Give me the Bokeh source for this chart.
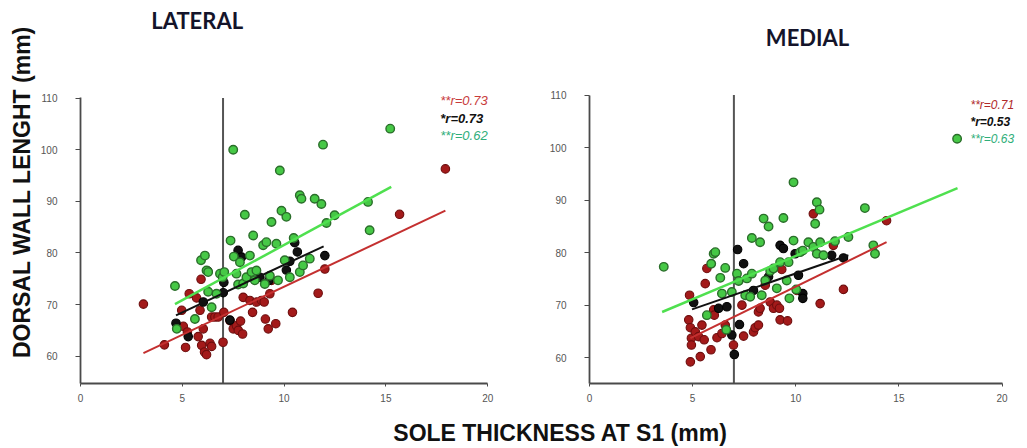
from bokeh.plotting import figure
from bokeh.layouts import column, row
from bokeh.models import Range1d, FixedTicker, Label
from bokeh.embed import file_html
from bokeh.resources import INLINE

# ---------------- data ----------------
x_ticks = [0, 5, 10, 15, 20]
y_ticks = [60, 70, 80, 90, 100, 110]
cut_x = 7

lat_red_x = [3.09, 4.12, 4.97, 5.05, 5.16, 5.25, 5.34, 5.70, 5.78, 5.87, 5.92, 5.95, 6.03, 6.09, 6.19,
             6.36, 6.44, 6.44, 6.60, 6.76, 7.00, 7.04, 7.34, 7.50, 7.66, 7.75, 7.86, 7.96, 7.99, 8.32,
             8.45, 8.64, 8.89, 9.02, 9.08, 9.22, 9.30, 9.38, 9.59, 10.41, 11.67, 12.00, 15.67, 17.92]
lat_red_y = [70.1, 62.2, 68.9, 65.8, 61.7, 64.7, 72.1, 71.3, 63.8, 68.9, 74.9, 62.1, 65.3, 60.8, 60.3,
             62.5, 61.9, 67.6, 67.6, 67.6, 62.7, 68.5, 66.9, 65.3, 65.9, 65.0, 66.8, 64.3, 71.4, 70.8,
             68.5, 70.5, 70.8, 70.5, 67.2, 65.3, 72.1, 74.7, 66.3, 68.5, 72.2, 76.9, 87.5, 96.3]
lat_black_x = [4.69, 5.29, 6.03, 6.25, 7.01, 7.04, 7.34, 7.74, 7.91, 8.81, 9.26, 10.11, 10.28, 10.52, 10.65, 12.00]
lat_black_y = [66.4, 63.8, 70.5, 76.5, 72.3, 74.3, 67.0, 80.5, 79.2, 75.3, 74.7, 76.7, 78.4, 82.0, 80.2, 79.5]
lat_green_x = [4.64, 4.73, 5.62, 5.92, 6.11, 6.19, 6.27, 6.27, 6.44, 6.68, 6.85, 6.98, 7.06, 7.37, 7.50,
               7.53, 7.66, 7.74, 7.83, 7.99, 8.07, 8.15, 8.32, 8.40, 8.48, 8.56, 8.64, 8.97, 9.05, 9.13,
               9.30, 9.38, 9.62, 9.70, 9.79, 9.87, 10.03, 10.11, 10.28, 10.47, 10.77, 10.85, 10.77, 10.93,
               11.26, 11.50, 11.83, 11.91, 12.08, 12.48, 14.12, 14.20, 15.21]
lat_green_y = [73.6, 65.3, 67.2, 78.6, 79.5, 76.6, 76.3, 72.5, 69.5, 72.1, 76.0, 75.3, 76.3, 82.4, 100.0,
               79.3, 76.0, 73.9, 78.2, 74.1, 87.4, 75.3, 79.5, 76.3, 83.4, 74.7, 76.6, 81.5, 74.0, 82.1,
               75.6, 86.0, 81.8, 74.7, 96.0, 88.2, 78.6, 87.0, 75.3, 82.9, 91.2, 90.5, 76.3, 77.6,
               78.9, 90.5, 89.5, 101.0, 85.8, 87.3, 89.9, 84.4, 104.1]
lat_red_line_x = [3.09, 17.92]
lat_red_line_y = [60.6, 88.2]
lat_black_line_x = [4.69, 11.94]
lat_black_line_y = [67.9, 81.3]
lat_green_line_x = [4.64, 15.26]
lat_green_line_y = [70.1, 92.8]
lat_r = ["**r=0.73", "*r=0.73", "**r=0.62"]

med_red_x = [4.85, 4.81, 4.89, 4.94, 4.94, 4.89, 5.13, 5.29, 5.37, 5.45, 5.56, 5.61, 5.69, 5.89, 6.02,
             6.05, 6.18, 6.42, 6.58, 6.98, 7.39, 7.47, 7.95, 8.03, 8.19, 8.19, 8.27, 8.52, 8.76, 8.92,
             9.08, 9.21, 9.24, 9.32, 9.60, 10.05, 10.85, 11.18, 11.82, 12.31, 14.40]
med_red_y = [71.9, 67.2, 65.7, 63.7, 62.4, 59.2, 64.9, 64.0, 60.2, 66.2, 63.4, 74.1, 77.0, 61.5, 69.1,
             68.1, 63.8, 64.6, 66.2, 62.4, 70.0, 64.1, 64.9, 65.7, 68.7, 66.2, 69.4, 73.8, 70.6, 69.4,
             70.0, 69.4, 67.2, 76.8, 67.0, 72.8, 87.4, 70.3, 81.4, 73.0, 86.1]
med_black_x = [5.05, 6.26, 6.66, 6.90, 7.02, 7.18, 7.27, 7.47, 7.95, 8.68, 9.24, 9.40, 9.97, 10.13, 10.34, 10.34, 11.74, 12.31]
med_black_y = [70.5, 69.4, 69.7, 64.3, 60.6, 80.6, 66.3, 77.9, 72.8, 75.4, 81.4, 80.8, 79.8, 75.7, 72.2, 71.3, 79.5, 79.0]
med_green_x = [3.60, 5.69, 5.90, 6.02, 6.10, 6.34, 6.42, 6.58, 6.63, 6.90, 7.15, 7.23, 7.55, 7.63, 7.79,
               7.87, 7.87, 8.27, 8.35, 8.44, 8.52, 8.68, 8.76, 8.92, 9.08, 9.24, 9.40, 9.56, 9.65, 9.69,
               9.89, 9.89, 10.02, 10.21, 10.34, 10.61, 10.85, 10.94, 11.02, 11.02, 11.15, 11.18, 11.34,
               11.90, 12.55, 13.35, 13.76, 13.84, 17.82]
med_green_y = [77.3, 68.1, 77.9, 79.8, 80.1, 75.2, 72.2, 77.1, 65.3, 72.5, 76.0, 74.6, 71.9, 75.1, 71.6,
               82.8, 76.0, 82.0, 71.9, 86.5, 74.7, 85.0, 76.5, 77.0, 73.2, 78.2, 86.6, 74.7, 78.2, 71.3,
               93.4, 82.3, 73.0, 80.1, 80.4, 82.0, 81.1, 85.5, 89.6, 79.8, 88.2, 82.0, 79.5,
               82.2, 83.0, 88.5, 81.4, 79.8, 101.7]
med_red_line_x = [4.89, 14.40]
med_red_line_y = [63.7, 82.0]
med_black_line_x = [4.97, 12.55]
med_black_line_y = [69.2, 79.5]
med_green_line_x = [3.52, 17.84]
med_green_line_y = [68.7, 92.3]
med_r = ["**r=0.71", "*r=0.53", "**r=0.63"]

# ---------------- styles ----------------
RED_FILL, RED_EDGE, RED_LINE = "#a31a1a", "#6e0e0e", "#c43030"
BLK_FILL, BLK_EDGE, BLK_LINE = "#111111", "#000000", "#111111"
GRN_FILL, GRN_EDGE, GRN_LINE = "#46c846", "#2a6e2a", "#4fe04f"
AX = "#4a4a4a"


def make_panel(width, height, border_l, border_b, x_end, y0, y1, y_top):
    p = figure(width=width, height=height, output_backend="svg", toolbar_location=None,
               title=None,
               x_range=Range1d(0, x_end), y_range=Range1d(y0, y1),
               min_border_left=border_l, min_border_right=0,
               min_border_top=0, min_border_bottom=border_b)
    p.outline_line_color = None
    p.grid.visible = False
    p.background_fill_color = "white"
    p.border_fill_color = "white"
    p.xaxis.ticker = FixedTicker(ticks=x_ticks)
    p.yaxis.ticker = FixedTicker(ticks=y_ticks)
    p.xaxis.bounds = (x_ticks[0], x_ticks[-1])
    p.yaxis.bounds = (y0, y_top)
    for ax in (p.xaxis[0], p.yaxis[0]):
        ax.axis_line_color = AX
        ax.axis_line_width = 1.8
        ax.major_tick_line_color = AX
        ax.minor_tick_line_color = None
        ax.major_label_text_font = "Liberation Sans"
        ax.major_label_text_font_size = "10px"
        ax.major_label_text_color = "#555555"
    p.xaxis.major_tick_out = 3
    p.xaxis.major_tick_in = 0
    p.xaxis.major_label_standoff = 7
    p.yaxis.major_tick_out = 5
    p.yaxis.major_tick_in = 0
    p.yaxis.major_label_standoff = 18
    # vertical reference line at the S1 cut-off
    p.segment(x0=[cut_x], y0=[y0], x1=[cut_x], y1=[y_top], line_color="#555555", line_width=2)
    return p


def draw(p, rx, ry, bx, by, gx, gy, lines):
    p.scatter(rx, ry, size=8.5, fill_color=RED_FILL, line_color=RED_EDGE, line_width=1.1)
    p.scatter(bx, by, size=8.5, fill_color=BLK_FILL, line_color=BLK_EDGE, line_width=1.1)
    p.scatter(gx, gy, size=8.5, fill_color=GRN_FILL, line_color=GRN_EDGE, line_width=1.4)
    for (lx, ly, c, w) in lines:
        p.line(lx, ly, line_color=c, line_width=w)


# ---------------- LATERAL ----------------
p1 = make_panel(530, 408, 80, 25, 22.10, 54.71, 128.93, 110.05)
draw(p1, lat_red_x, lat_red_y, lat_black_x, lat_black_y, lat_green_x, lat_green_y,
     [(lat_red_line_x, lat_red_line_y, RED_LINE, 2),
      (lat_black_line_x, lat_black_line_y, BLK_LINE, 2),
      (lat_green_line_x, lat_green_line_y, GRN_LINE, 2.5)])
p1.yaxis.axis_label = "DORSAL WALL LENGHT (mm)"
p1.yaxis.axis_label_text_font = "Liberation Sans"
p1.yaxis.axis_label_text_font_style = "bold"
p1.yaxis.axis_label_text_font_size = "23px"
p1.yaxis.axis_label_text_color = "#111111"
p1.yaxis.axis_label_standoff = 3
p1.add_layout(Label(x=5.73, y=125.06, text="LATERAL", text_font="Lato", text_font_style="bold",
                    text_font_size="22px", text_color="#14142a", text_align="center",
                    text_baseline="middle"))
for txt, yy, col in zip(lat_r, [109.55, 106.0, 102.77], ["#c83a3a", "#111111", "#2fae7a"]):
    p1.add_layout(Label(x=17.67, y=yy, text=txt, text_font="Liberation Sans",
                        text_font_style="bold italic" if col == "#111111" else "italic",
                        text_font_size="13px", text_color=col, text_baseline="middle"))

# ---------------- MEDIAL ----------------
p2 = make_panel(492, 408, 59, 23, 20.99, 55.07, 128.06, 110.05)
draw(p2, med_red_x, med_red_y, med_black_x, med_black_y, med_green_x, med_green_y,
     [(med_red_line_x, med_red_line_y, RED_LINE, 2),
      (med_black_line_x, med_black_line_y, BLK_LINE, 2),
      (med_green_line_x, med_green_line_y, GRN_LINE, 2.5)])
p2.add_layout(Label(x=10.57, y=121.1, text="MEDIAL", text_font="Lato", text_font_style="bold",
                    text_font_size="22px", text_color="#14142a", text_align="center",
                    text_baseline="middle"))
for txt, yy, col in zip(med_r, [108.15, 104.99, 101.7], ["#b02a2a", "#111111", "#2fae7a"]):
    p2.add_layout(Label(x=18.47, y=yy, text=txt, text_font="Liberation Sans",
                        text_font_style="bold italic" if col == "#111111" else "italic",
                        text_font_size="12px", text_color=col, text_baseline="middle"))

# ---------------- shared x label ----------------
p3 = figure(width=1022, height=38, output_backend="svg", toolbar_location=None, title=None,
            x_range=Range1d(0, 1022), y_range=Range1d(0, 38),
            x_axis_location=None, y_axis_location=None, min_border=0)
p3.outline_line_color = None
p3.grid.visible = False
p3.add_layout(Label(x=560, y=14, text="SOLE THICKNESS AT S1 (mm)", text_font="Liberation Sans",
                    text_font_style="bold", text_font_size="23px", text_color="#111111",
                    text_align="center", text_baseline="middle"))

layout = column(row(p1, p2), p3)
open("out.html", "w").write(file_html(layout, INLINE))
